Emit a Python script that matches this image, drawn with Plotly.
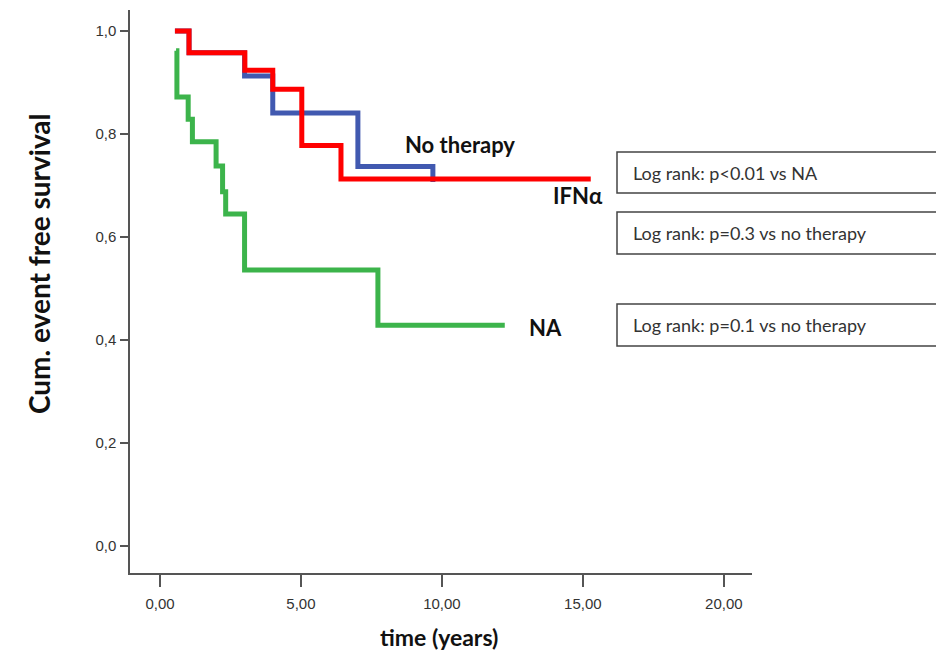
import plotly.graph_objects as go

# Kaplan-Meier step data (time in years, cumulative event free survival)
no_therapy_t = [0.53, 1.03, 3.00, 4.00, 7.02, 9.68]
no_therapy_s = [1.000, 0.958, 0.913, 0.841, 0.737, 0.707]

ifn_t = [0.53, 1.03, 3.01, 4.00, 5.03, 6.42, 15.28]
ifn_s = [1.000, 0.958, 0.924, 0.887, 0.778, 0.713, 0.713]

na_t = [0.57, 0.60, 1.00, 1.15, 1.99, 2.22, 2.33, 3.00, 7.73, 12.23]
na_s = [0.962, 0.872, 0.829, 0.785, 0.738, 0.688, 0.645, 0.536, 0.429, 0.429]

x_ticks = [0, 5, 10, 15, 20]
x_tick_labels = ["0,00", "5,00", "10,00", "15,00", "20,00"]
y_ticks = [0.0, 0.2, 0.4, 0.6, 0.8, 1.0]
y_tick_labels = ["0,0", "0,2", "0,4", "0,6", "0,8", "1,0"]

curve_labels = [("No therapy", 10.64, 0.780), ("IFNα", 14.82, 0.680), ("NA", 13.69, 0.425)]
box_texts = ["Log rank: p<0.01 vs NA", "Log rank: p=0.3 vs no therapy", "Log rank: p=0.1 vs no therapy"]

fig = go.Figure()
fig.add_trace(go.Scatter(x=no_therapy_t, y=no_therapy_s, mode="lines", line_shape="hv",
                         line=dict(color="#4159b0", width=5), name="No therapy"))
fig.add_trace(go.Scatter(x=na_t, y=na_s, mode="lines", line_shape="hv",
                         line=dict(color="#3cb44b", width=5), name="NA"))
fig.add_trace(go.Scatter(x=ifn_t, y=ifn_s, mode="lines", line_shape="hv",
                         line=dict(color="#ff0000", width=5), name="IFNα"))

W, H = 936, 659
L, R, T, B = 130, 184, 10, 86
pw, ph = W - L - R, H - T - B

def px(xp):
    return (xp - L) / pw

def py(yp):
    return (H - B - yp) / ph

FONT = "Lato, Open Sans, sans-serif"
annotations = []
for txt, x, y in curve_labels:
    annotations.append(dict(x=x, y=y, xref="x", yref="y", xanchor="center", yanchor="middle",
                            text=f"<b>{txt}</b>", showarrow=False,
                            font=dict(family=FONT, size=22, color="#111")))

shapes = []
boxes = [(152, 193), (212, 254), (304, 346)]
for (top, bot), txt in zip(boxes, box_texts):
    shapes.append(dict(type="rect", xref="paper", yref="paper", x0=px(617), x1=px(960),
                       y0=py(bot), y1=py(top), line=dict(color="#444", width=1.5), fillcolor="rgba(0,0,0,0)"))
    annotations.append(dict(x=px(631), y=py((top + bot) / 2), xref="paper", yref="paper", xanchor="left",
                            yanchor="middle", text=txt, showarrow=False,
                            font=dict(family=FONT, size=18, color="#333")))

annotations.append(dict(x=px(39), y=py(264), xref="paper", yref="paper", xanchor="center", yanchor="middle",
                        text="<b>Cum. event free survival</b>", textangle=-90, showarrow=False,
                        font=dict(family=FONT, size=28, color="#111")))
annotations.append(dict(x=px(439), y=py(637), xref="paper", yref="paper", xanchor="center", yanchor="middle",
                        text="<b>time (years)</b>", showarrow=False,
                        font=dict(family=FONT, size=23, color="#111")))

fig.update_layout(
    width=W, height=H, margin=dict(l=L, r=R, t=T, b=B),
    paper_bgcolor="white", plot_bgcolor="white", showlegend=False,
    annotations=annotations, shapes=shapes,
    xaxis=dict(range=[-1.064, 21.0], tickvals=x_ticks, ticktext=x_tick_labels, showgrid=False, zeroline=False,
               showline=True, linecolor="#555", linewidth=1.5, ticks="outside", ticklen=12, tickwidth=1.5,
               tickcolor="#555", ticklabelstandoff=4,
               tickfont=dict(family="Liberation Sans, Arial", size=15, color="#333")),
    yaxis=dict(range=[-0.052, 1.041], tickvals=y_ticks, ticktext=y_tick_labels, showgrid=False, zeroline=False,
               showline=True, linecolor="#555", linewidth=1.5, ticks="outside", ticklen=8, tickwidth=1.5,
               tickcolor="#555", ticklabelstandoff=1,
               tickfont=dict(family="Liberation Sans, Arial", size=15, color="#333")),
)

fig.write_html("out.html")
